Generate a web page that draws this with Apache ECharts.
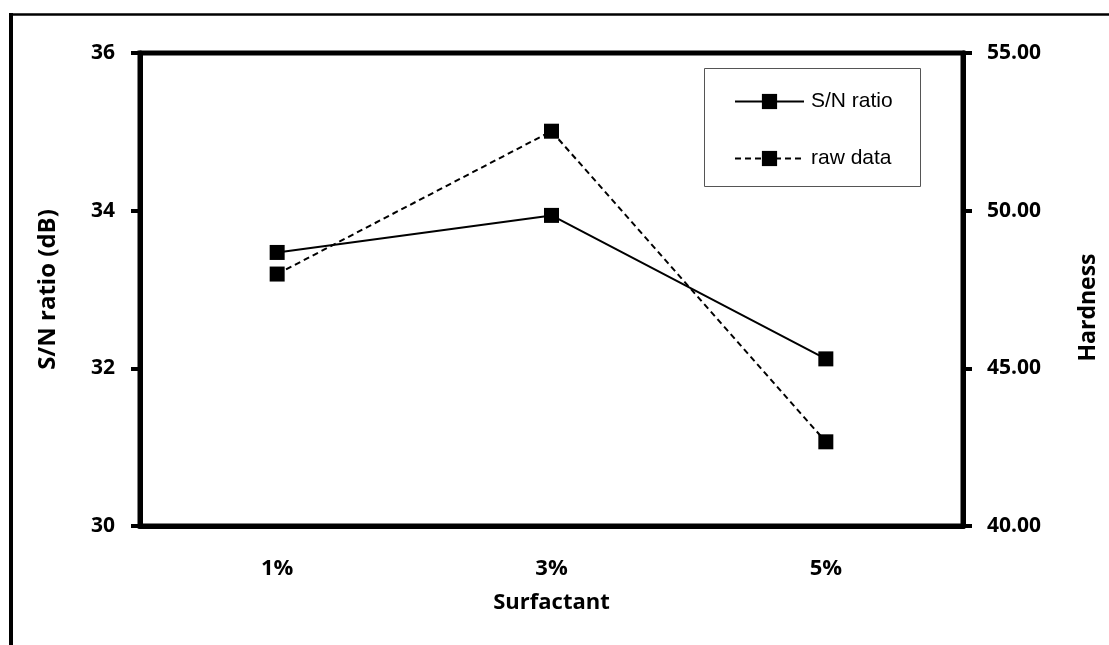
<!DOCTYPE html>
<html>
<head>
<meta charset="utf-8">
<script src="https://cdn.jsdelivr.net/npm/echarts@6/dist/echarts.min.js"></script>
<style>
  html, body { margin: 0; padding: 0; background: #fff; }
  #chart { width: 1109px; height: 645px; }
</style>
</head>
<body>
<div id="chart"></div>
<script>
// Surfactant levels and the two response curves
const categories = ['1%', '3%', '5%'];
const snRatio = [33.47, 33.94, 32.12];      // S/N ratio (dB), left axis
const rawData = [47.99, 52.52, 42.67];      // Hardness, right axis
const leftTicks = { min: 30, max: 36, interval: 2 };
const rightTicks = { min: 40, max: 55, interval: 5 };

const FONT = '"Open Sans", "Noto Sans", sans-serif';
const chart = echarts.init(document.getElementById('chart'), null, { renderer: 'canvas' });

const option = {
  backgroundColor: '#ffffff',
  animation: false,
  graphic: [
    // outer frame (left and top edges)
    { type: 'line', shape: { x1: 11, y1: 13, x2: 11, y2: 700 }, style: { stroke: '#000', lineWidth: 4 }, z: 0 },
    { type: 'line', shape: { x1: 9, y1: 14.5, x2: 1200, y2: 14.5 }, style: { stroke: '#000', lineWidth: 2.5 }, z: 0 },
    // legend box
    { type: 'rect', shape: { x: 704.5, y: 68.5, width: 216, height: 118 }, style: { fill: '#fff', stroke: '#555', lineWidth: 1 }, z: 5 }
  ],
  grid: {
    left: 140, right: 146, top: 53, bottom: 119,
    show: true, borderColor: '#000', borderWidth: 5, backgroundColor: 'transparent'
  },
  legend: {
    orient: 'vertical',
    left: 729, top: 86,
    itemWidth: 69, itemHeight: 19, itemGap: 36,
    textStyle: { fontFamily: '"Liberation Sans", Arial, sans-serif', fontSize: 21, color: '#000', padding: [0, 0, 0, 2] },
    data: ['S/N ratio', 'raw data'],
    z: 10
  },
  xAxis: {
    type: 'category',
    data: categories,
    boundaryGap: true,
    name: 'Surfactant',
    nameLocation: 'middle',
    nameGap: 66,
    nameTextStyle: { fontFamily: FONT, fontWeight: 'bold', fontSize: 22, color: '#000' },
    axisLine: { lineStyle: { color: '#000', width: 5 } },
    axisTick: { alignWithLabel: true, length: 8, lineStyle: { color: '#000', width: 4 } },
    axisLabel: { margin: 32, fontFamily: FONT, fontWeight: 'bold', fontSize: 22, color: '#000' },
    splitLine: { show: false }
  },
  yAxis: [
    {
      type: 'value',
      position: 'left',
      min: leftTicks.min, max: leftTicks.max, interval: leftTicks.interval,
      name: 'S/N ratio (dB)',
      nameLocation: 'middle',
      nameGap: 80,
      nameRotate: 90,
      nameTextStyle: { fontFamily: FONT, fontWeight: 'bold', fontSize: 24, color: '#000' },
      axisLine: { show: true, lineStyle: { color: '#000', width: 5 } },
      axisTick: { show: true, length: 9, lineStyle: { color: '#000', width: 4 } },
      axisLabel: { margin: 25, fontFamily: FONT, fontWeight: 'bold', fontSize: 21, color: '#000' },
      splitLine: { show: false }
    },
    {
      type: 'value',
      position: 'right',
      min: rightTicks.min, max: rightTicks.max, interval: rightTicks.interval,
      name: 'Hardness',
      nameLocation: 'middle',
      nameGap: 114,
      nameRotate: 90,
      nameTextStyle: { fontFamily: FONT, fontWeight: 'bold', fontSize: 23, color: '#000', padding: [0, 36, 0, 0] },
      axisLine: { show: true, lineStyle: { color: '#000', width: 5 } },
      axisTick: { show: true, length: 9, lineStyle: { color: '#000', width: 4 } },
      axisLabel: {
        margin: 24, fontFamily: FONT, fontWeight: 'bold', fontSize: 21, color: '#000',
        formatter: v => v.toFixed(2)
      },
      splitLine: { show: false }
    }
  ],
  series: [
    {
      name: 'S/N ratio',
      type: 'line',
      yAxisIndex: 0,
      data: snRatio,
      symbol: 'rect',
      symbolSize: 15,
      itemStyle: { color: '#000' },
      lineStyle: { color: '#000', width: 2, type: 'solid' },
      z: 3
    },
    {
      name: 'raw data',
      type: 'line',
      yAxisIndex: 1,
      data: rawData,
      symbol: 'rect',
      symbolSize: 15,
      itemStyle: { color: '#000' },
      lineStyle: { color: '#000', width: 2, type: [6, 4] },
      z: 3
    }
  ]
};

chart.setOption(option);
</script>
</body>
</html>
